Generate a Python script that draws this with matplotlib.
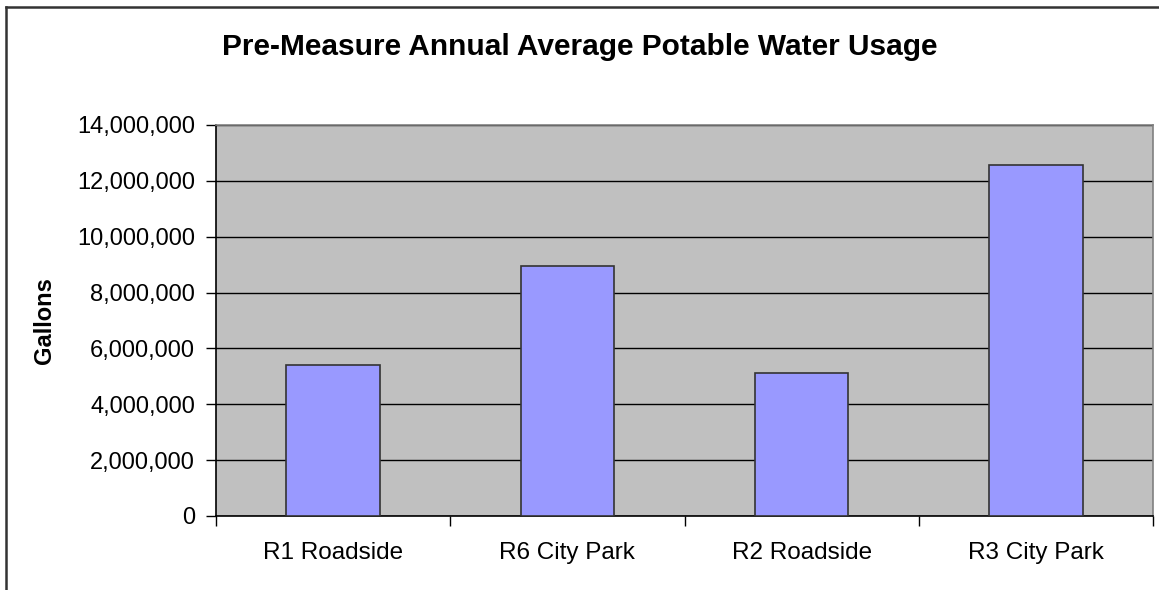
import matplotlib
matplotlib.use("Agg")
import matplotlib.pyplot as plt
from matplotlib.ticker import FuncFormatter, FixedLocator
from matplotlib.lines import Line2D

categories = ["R1 Roadside", "R6 City Park", "R2 Roadside", "R3 City Park"]
values = [5390000, 8950000, 5120000, 12580000]
yticks = [0, 2000000, 4000000, 6000000, 8000000, 10000000, 12000000, 14000000]
title = "Pre-Measure Annual Average Potable Water Usage"
ylabel = "Gallons"

plt.rcParams['font.family'] = ['Liberation Sans', 'DejaVu Sans']

W, H = 1159, 590
fig = plt.figure(figsize=(W / 100, H / 100), dpi=100)
fig.patch.set_facecolor("white")

left, right, top, bottom = 216, 1153, 125, 516
ax = fig.add_axes([left / W, (H - bottom) / H, (right - left) / W, (bottom - top) / H])
ax.set_facecolor("#C0C0C0")

x = list(range(len(categories)))
ax.bar(x, values, width=0.4, color="#9999FF", edgecolor="#333333", linewidth=1.2, zorder=3)

ax.set_xlim(-0.5, len(categories) - 0.5)
ax.set_ylim(0, 14000000)
ax.set_yticks(yticks)
ax.yaxis.set_major_formatter(FuncFormatter(lambda v, p: f"{int(v):,}"))
ax.yaxis.grid(True, color="black", linewidth=1.0, zorder=1)
ax.set_axisbelow(True)

ax.set_xticks(x)
ax.set_xticklabels(categories)
ax.xaxis.set_minor_locator(FixedLocator([i - 0.5 for i in range(len(categories) + 1)]))
ax.tick_params(axis="x", which="major", length=0, pad=19, labelsize=17.5)
ax.tick_params(axis="x", which="minor", length=7, width=1, color="black", direction="out")
ax.tick_params(axis="y", which="major", length=7, width=1, color="black", direction="out", labelsize=17, pad=8)

for s in ["left", "bottom"]:
    ax.spines[s].set_color("black")
    ax.spines[s].set_linewidth(1.2)
for s in ["top", "right"]:
    ax.spines[s].set_color("#808080")
    ax.spines[s].set_linewidth(1.2)

ax.set_ylabel(ylabel, fontsize=17, fontweight="bold")
ax.yaxis.set_label_coords((56 - left) / (right - left), 0.5)

fig.text(580 / W, 1 - 47 / H, title, ha="center", va="center", fontsize=21.5, fontweight="bold")

# outer chart border (left and top visible)
fig.add_artist(Line2D([6 / W, 6 / W], [1 - 7 / H, 0], transform=fig.transFigure, color="#333333", linewidth=1.8))
fig.add_artist(Line2D([6 / W, 1], [1 - 7 / H, 1 - 7 / H], transform=fig.transFigure, color="#333333", linewidth=1.8))

fig.savefig("out.png", dpi=100, facecolor="white")
